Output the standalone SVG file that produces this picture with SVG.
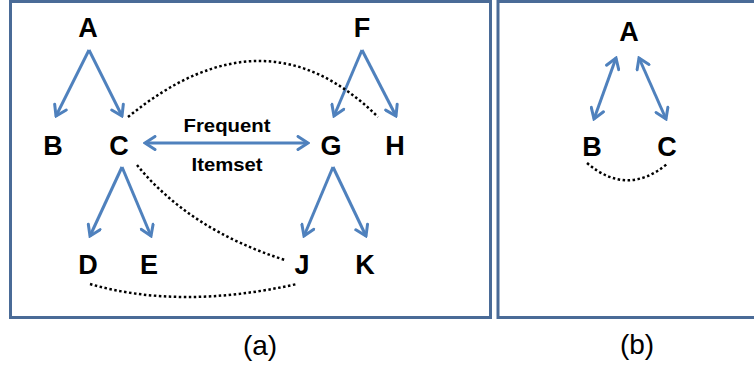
<svg xmlns="http://www.w3.org/2000/svg" width="754" height="365" viewBox="0 0 754 365">
<style>
.frame{fill:none;stroke:#4a6b97;stroke-width:3}
.lbl{font-family:"Liberation Sans",Arial,sans-serif;font-weight:bold;font-size:27px;fill:#000;text-anchor:middle}
.small{font-family:"Liberation Sans",Arial,sans-serif;font-weight:bold;font-size:19px;fill:#000;text-anchor:middle}
.cap{font-family:"Liberation Sans",Arial,sans-serif;font-size:28px;fill:#000;text-anchor:middle}
.arr{fill:none;stroke:#4f81bd;stroke-width:3;marker-end:url(#head)}
.dbl{fill:none;stroke:#4f81bd;stroke-width:3;marker-start:url(#head);marker-end:url(#head)}
.dot{fill:none;stroke:#000;stroke-width:2.5;stroke-dasharray:2.5 2.5}
</style>
<defs>
<marker id="head" markerUnits="userSpaceOnUse" viewBox="-13 -8 15 16" refX="0" refY="0" markerWidth="15" markerHeight="16" orient="auto-start-reverse">
<path d="M-10,-6.5 L0,0 L-10,6.5" fill="none" stroke="#4f81bd" stroke-width="3" stroke-linejoin="miter" stroke-linecap="round"/>
</marker>
</defs>
<rect class="frame" x="10.5" y="1.5" width="480" height="316"/>
<rect class="frame" x="498" y="1.5" width="270" height="316"/>
<g id="connectors">
<path class="arr" d="M89,50 L56,116"/>
<path class="arr" d="M89,50 L122,116"/>
<path class="arr" d="M362,50 L334,116"/>
<path class="arr" d="M362,50 L396,116"/>
<path class="arr" d="M122,167 L90,236"/>
<path class="arr" d="M122,167 L151,236"/>
<path class="arr" d="M333,167 L304,236"/>
<path class="arr" d="M333,167 L366,236"/>
<path class="dbl" d="M145,143 L308,143"/>
<path class="dot" d="M128,117 Q265,5 378,117"/>
<path class="dot" d="M137,165 Q190,230 285,260"/>
<path class="dot" d="M90,284 Q180,310 297,284"/>
<path class="dbl" d="M616,58 L594,119"/>
<path class="dbl" d="M639,58 L666,119"/>
<path class="dot" d="M587,163 Q627,197 667,164"/>
</g>
<g id="node-a-A"><text class="lbl" x="88" y="37">A</text></g>
<g id="node-a-B"><text class="lbl" x="53" y="155">B</text></g>
<g id="node-a-C"><text class="lbl" x="119" y="155">C</text></g>
<g id="node-a-D"><text class="lbl" x="88" y="274">D</text></g>
<g id="node-a-E"><text class="lbl" x="149" y="274">E</text></g>
<g id="node-a-F"><text class="lbl" x="362" y="37">F</text></g>
<g id="node-a-G"><text class="lbl" x="331" y="155">G</text></g>
<g id="node-a-H"><text class="lbl" x="395" y="155">H</text></g>
<g id="node-a-J"><text class="lbl" x="302" y="274">J</text></g>
<g id="node-a-K"><text class="lbl" x="365" y="274">K</text></g>
<g id="label-frequent"><text class="small" x="227" y="132" textLength="87" lengthAdjust="spacingAndGlyphs">Frequent</text><text class="small" x="227" y="171" textLength="71" lengthAdjust="spacingAndGlyphs">Itemset</text></g>
<g id="node-b-A"><text class="lbl" x="629" y="41">A</text></g>
<g id="node-b-B"><text class="lbl" x="592" y="156">B</text></g>
<g id="node-b-C"><text class="lbl" x="667" y="156">C</text></g>
<text class="cap" x="260" y="355">(a)</text>
<text class="cap" x="637" y="354">(b)</text>
</svg>
